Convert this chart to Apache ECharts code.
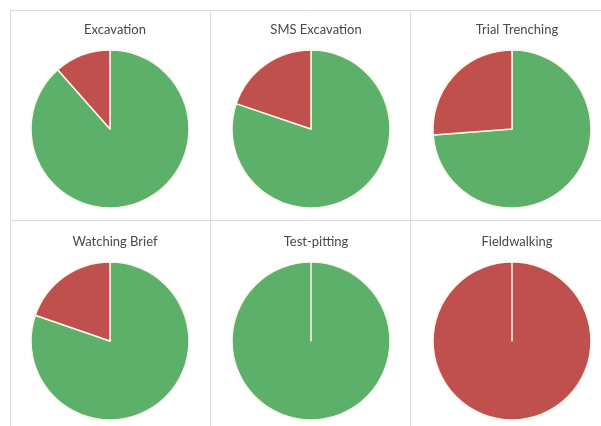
<!DOCTYPE html>
<html>
<head>
<meta charset="utf-8">
<script src="https://cdn.jsdelivr.net/npm/echarts@6/dist/echarts.min.js"></script>
<style>
  html, body { margin: 0; padding: 0; background: #ffffff; }
  #chart { width: 601px; height: 426px; }
</style>
</head>
<body>
<div id="chart"></div>
<script>
// Share of each fieldwork type, split into two outcomes (percent)
const panelTitles = ['Excavation', 'SMS Excavation', 'Trial Trenching', 'Watching Brief', 'Test-pitting', 'Fieldwalking'];
const greenShare = [88.5, 80.2, 73.8, 80.3, 100, 0];
const redShare   = [11.5, 19.8, 26.2, 19.7, 0, 100];

const GREEN = '#5db06a';
const RED = '#c0504d';

// Panel centres (3 columns x 2 rows)
const colX = [110, 311, 512];
const rowY = [129, 341];
const titleY = [18, 230];

const chart = echarts.init(document.getElementById('chart'), null, { renderer: 'canvas' });

const titles = [];
const series = [];
panelTitles.forEach(function (name, i) {
  const c = i % 3, r = Math.floor(i / 3);
  titles.push({
    text: name,
    left: colX[c],
    top: titleY[r],
    textAlign: 'center',
    textStyle: { fontFamily: 'Lato, "Open Sans", sans-serif', fontSize: 13, fontWeight: 'normal', color: '#484848' }
  });
  let slices = [
    { name: 'Green', value: greenShare[i], itemStyle: { color: GREEN } },
    { name: 'Red', value: redShare[i], itemStyle: { color: RED } }
  ];
  // An empty slice is drawn last so its edge stays visible as a thin radius
  if (slices[0].value === 0) slices = [slices[1], slices[0]];
  series.push({
    type: 'pie',
    name: name,
    center: [colX[c], rowY[r]],
    radius: 79,
    startAngle: 90,
    clockwise: true,
    animation: false,
    silent: true,
    label: { show: false },
    labelLine: { show: false },
    itemStyle: { borderColor: '#fbf6ea', borderWidth: 1.5 },
    data: slices
  });
});

const lineStyle = { stroke: '#dcdcdc', lineWidth: 1 };
chart.setOption({
  backgroundColor: '#ffffff',
  title: titles,
  series: series,
  graphic: [
    { type: 'line', shape: { x1: 10, y1: 10.5, x2: 601, y2: 10.5 }, style: lineStyle, silent: true },
    { type: 'line', shape: { x1: 10, y1: 220.5, x2: 601, y2: 220.5 }, style: lineStyle, silent: true },
    { type: 'line', shape: { x1: 10.5, y1: 10, x2: 10.5, y2: 426 }, style: lineStyle, silent: true },
    { type: 'line', shape: { x1: 210.5, y1: 10, x2: 210.5, y2: 426 }, style: lineStyle, silent: true },
    { type: 'line', shape: { x1: 410.5, y1: 10, x2: 410.5, y2: 426 }, style: lineStyle, silent: true }
  ]
});
</script>
</body>
</html>
